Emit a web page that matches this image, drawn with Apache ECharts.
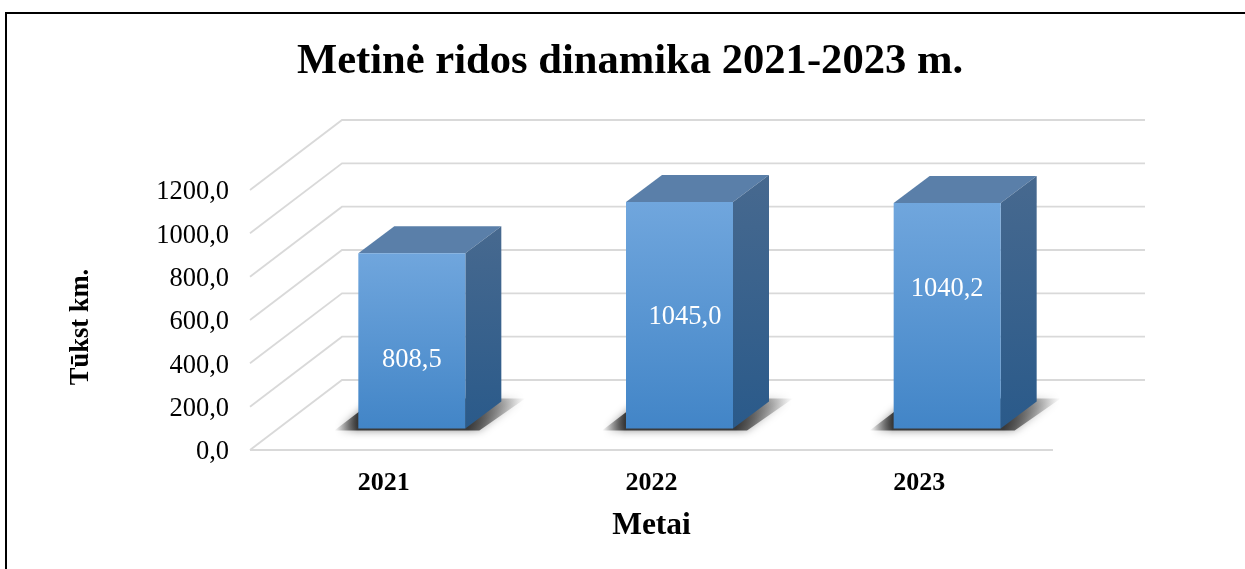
<!DOCTYPE html>
<html><head><meta charset="utf-8">
<style>html,body{margin:0;padding:0;background:#fff}#c{width:1245px;height:569px}</style>
<script src="https://cdn.jsdelivr.net/npm/echarts@6/dist/echarts.min.js"></script>
</head><body><div id="c"></div>
<script>
const categories = ['2021', '2022', '2023'];
const values = [808.5, 1045.0, 1040.2];
const valueLabels = ['808,5', '1045,0', '1040,2'];
const labelShiftY = [19, 2, -27];
const labelShiftX = [0, 5.5, 0];
const yTicks = [0, 200, 400, 600, 800, 1000, 1200];
const yTickLabels = ['0,0', '200,0', '400,0', '600,0', '800,0', '1000,0', '1200,0'];

const FONT = '"Liberation Serif","Times New Roman",serif';
const WALL = [92, -70], OFF = [28, -21.5], DEPTH = [36, -27], HALF = 53.5;
const chart = echarts.init(document.getElementById('c'), null, {renderer: 'canvas'});

function gridRender(params, api) {
  const v = api.value(0);
  const cs = params.coordSys;
  const y = api.coord([0, v])[1];
  const x0 = cs.x, x1 = cs.x + cs.width;
  const style = {stroke: '#d9d9d9', lineWidth: 1.8, fill: null};
  const children = [{
    type: 'polyline',
    shape: {points: [[x0, y], [x0 + WALL[0], y + WALL[1]], [x1 + WALL[0], y + WALL[1]]]},
    style
  }];
  if (v === 0) children.push({type: 'line', shape: {x1: x0, y1: y, x2: x1, y2: y}, style});
  return {type: 'group', children};
}
function barRender(params, api) {
  const i = api.value(0), v = api.value(1);
  const b = api.coord([i, 0]), t = api.coord([i, v]);
  const xl = b[0] + OFF[0] - HALF, xr = b[0] + OFF[0] + HALF;
  const yb = b[1] + OFF[1], yt = t[1] + OFF[1];
  const dx = DEPTH[0], dy = DEPTH[1];
  const grad = (a, c) => new echarts.graphic.LinearGradient(0, 0, 0, 1, [{offset: 0, color: a}, {offset: 1, color: c}]);
  const shadowFill = new echarts.graphic.LinearGradient(0, 0, 1, 0, [
    {offset: 0, color: 'rgba(60,60,60,0)'},
    {offset: 0.12, color: 'rgba(45,45,45,0.9)'},
    {offset: 0.7, color: 'rgba(45,45,45,0.9)'},
    {offset: 1, color: 'rgba(60,60,60,0)'}]);
  return {type: 'group', children: [
    {type: 'polygon', silent: true,
     shape: {points: [[xl - 24, yb + 2], [xr + 14, yb + 2], [xr + 60, yb + dy - 3], [xl + 18, yb + dy - 3]]},
     style: {fill: shadowFill, shadowBlur: 8, shadowColor: 'rgba(80,80,80,0.7)'}},
    {type: 'polygon', shape: {points: [[xl, yt], [xr, yt], [xr + dx, yt + dy], [xl + dx, yt + dy]]},
     style: {fill: '#5a7fa9'}},
    {type: 'polygon', shape: {points: [[xr, yt], [xr + dx, yt + dy], [xr + dx, yb + dy], [xr, yb]]},
     style: {fill: grad('#47698f', '#2a5a8a')}},
    {type: 'rect', shape: {x: xl, y: yt, width: xr - xl, height: yb - yt},
     style: {fill: grad('#70a6dd', '#4285c7')}},
    {type: 'text', style: {
      x: (xl + xr) / 2 + labelShiftX[i], y: (yt + yb) / 2 + labelShiftY[i], text: valueLabels[i],
      fill: '#fff', font: '26.5px ' + FONT, align: 'center', verticalAlign: 'middle'}}
  ]};
}
chart.setOption({
  animation: false,
  backgroundColor: '#fff',
  title: {text: 'Metinė ridos dinamika 2021-2023 m.', left: 625, top: 35, textAlign: 'center',
    textStyle: {fontFamily: FONT, fontSize: 42.6, fontWeight: 'bold', color: '#000'}},
  grid: {left: 250, right: 192, top: 190, bottom: 119},
  xAxis: {type: 'category', data: categories,
    axisLine: {show: false}, axisTick: {show: false}, splitLine: {show: false},
    axisLabel: {margin: 20, color: '#000', fontFamily: FONT, fontSize: 26, fontWeight: 'bold'},
    name: 'Metai', nameLocation: 'middle', nameGap: 60,
    nameTextStyle: {color: '#000', fontFamily: FONT, fontSize: 31.5, fontWeight: 'bold'}},
  yAxis: {type: 'value', min: 0, max: 1200, interval: 200,
    axisLine: {show: false}, axisTick: {show: false}, splitLine: {show: false},
    axisLabel: {margin: 21, color: '#000', fontFamily: FONT, fontSize: 26.5,
      verticalAlign: 'top', lineHeight: 5,
      formatter: v => yTickLabels[yTicks.indexOf(v)]},
    name: 'Tūkst km.', nameLocation: 'middle', nameGap: 155,
    nameTextStyle: {color: '#000', fontFamily: FONT, fontSize: 26.5, fontWeight: 'bold', padding: [0, 14, 0, 0]}},
  graphic: [{type: 'polyline', silent: true, z: -1,
    shape: {points: [[6, 569], [6, 13], [1245, 13]]},
    style: {stroke: '#000', lineWidth: 2, fill: null}}],
  series: [
    {type: 'custom', coordinateSystem: 'cartesian2d', z: 1, silent: true,
     encode: {x: -1, y: 0}, data: yTicks.map(v => [v]), renderItem: gridRender, clip: false},
    {type: 'custom', coordinateSystem: 'cartesian2d', z: 2,
     encode: {x: 0, y: 1}, data: values.map((v, i) => [i, v]), renderItem: barRender, clip: false}
  ]
});
</script></body></html>
